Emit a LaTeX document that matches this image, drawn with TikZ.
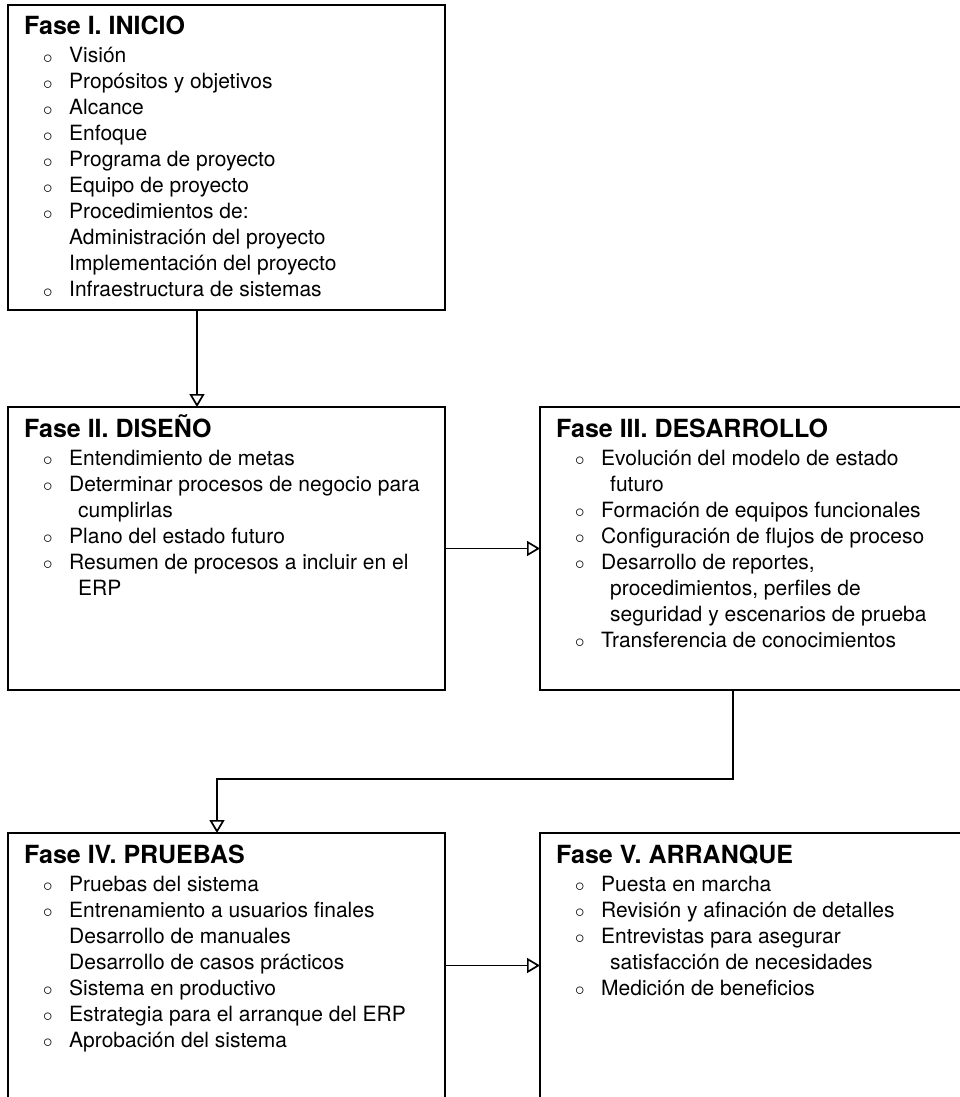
\documentclass[tikz,border=0pt]{standalone}
\usepackage{fontspec}
\setmainfont{TeX Gyre Heros}
\newfontfamily\blfont{DejaVu Sans}
\usepackage{xcolor}
\usetikzlibrary{arrows.meta, positioning, calc}

\newcommand{\fbody}[1]{\parbox[t]{430pt}{\fontsize{21}{26}\selectfont #1}}
\newcommand{\ftitle}[1]{{\fontsize{25}{28}\selectfont\bfseries #1\par}\vspace{2pt}}
\newcommand{\fitem}[1]{\par\hspace*{17pt}\makebox[28pt][l]{\raisebox{-3.5pt}{\blfont\bfseries ◦}}#1}
\newcommand{\fmore}[2][54pt]{\par\hspace*{#1}#2}

\begin{document}
\begin{tikzpicture}[x=1pt, y=1pt,
    fase/.style={draw, line width=1.7pt, anchor=north west, inner sep=0pt, outer sep=0pt},
    ftxt/.style={anchor=base west, inner sep=0pt},
    conn/.style={line width=1.7pt, -{Triangle[open, length=13pt, width=15pt]}}]
    \useasboundingbox (0,0) rectangle (960,-1097);
    \node[fase, minimum width=437pt, minimum height=305pt] (f1) at (8,-5) {};
    \node[fase, minimum width=437pt, minimum height=283pt] (f2) at ([yshift=-97pt]f1.south west) {};
    \node[fase, minimum width=421pt, minimum height=283pt] (f3) at ([xshift=95pt]f2.north east) {};
    \node[fase, minimum width=437pt, minimum height=265pt] (f4) at ([yshift=-143pt]f2.south west) {};
    \node[fase, minimum width=421pt, minimum height=265pt] (f5) at ([xshift=95pt]f4.north east) {};

    \node[ftxt] (t1) at ([shift={(16pt,-30pt)}]f1.north west) {\fbody{%
        \ftitle{Fase I. INICIO}
        \fitem{Visión}
        \fitem{Propósitos y objetivos}
        \fitem{Alcance}
        \fitem{Enfoque}
        \fitem{Programa de proyecto}
        \fitem{Equipo de proyecto}
        \fitem{Procedimientos de:}
        \fmore[45pt]{Administración del proyecto}
        \fmore[45pt]{Implementación del proyecto}
        \fitem{Infraestructura de sistemas}}};
    \node[ftxt] (t2) at ([shift={(16pt,-30pt)}]f2.north west) {\fbody{%
        \ftitle{Fase II. DISEÑO}
        \fitem{Entendimiento de metas}
        \fitem{Determinar procesos de negocio para}
        \fmore{cumplirlas}
        \fitem{Plano del estado futuro}
        \fitem{Resumen de procesos a incluir en el}
        \fmore{ERP}}};
    \node[ftxt] (t3) at ([shift={(16pt,-30pt)}]f3.north west) {\fbody{%
        \ftitle{Fase III. DESARROLLO}
        \fitem{Evolución del modelo de estado}
        \fmore{futuro}
        \fitem{Formación de equipos funcionales}
        \fitem{Configuración de flujos de proceso}
        \fitem{Desarrollo de reportes,}
        \fmore{procedimientos, perfiles de}
        \fmore{seguridad y escenarios de prueba}
        \fitem{Transferencia de conocimientos}}};
    \node[ftxt] (t4) at ([shift={(16pt,-30pt)}]f4.north west) {\fbody{%
        \ftitle{Fase IV. PRUEBAS}
        \fitem{Pruebas del sistema}
        \fitem{Entrenamiento a usuarios finales}
        \fmore[45pt]{Desarrollo de manuales}
        \fmore[45pt]{Desarrollo de casos prácticos}
        \fitem{Sistema en productivo}
        \fitem{Estrategia para el arranque del ERP}
        \fitem{Aprobación del sistema}}};
    \node[ftxt] (t5) at ([shift={(16pt,-30pt)}]f5.north west) {\fbody{%
        \ftitle{Fase V. ARRANQUE}
        \fitem{Puesta en marcha}
        \fitem{Revisión y afinación de detalles}
        \fitem{Entrevistas para asegurar}
        \fmore{satisfacción de necesidades}
        \fitem{Medición de beneficios}}};

    \draw[conn] ([xshift=189pt]f1.south west) -- ([xshift=189pt]f2.north west);
    \draw[conn] (f2.east) -- (f3.west);
    \draw[conn] ([xshift=193pt]f3.south west) -- ++(0,-89) -| ([xshift=209pt]f4.north west);
    \draw[conn] (f4.east) -- (f5.west);
\end{tikzpicture}
\end{document}
